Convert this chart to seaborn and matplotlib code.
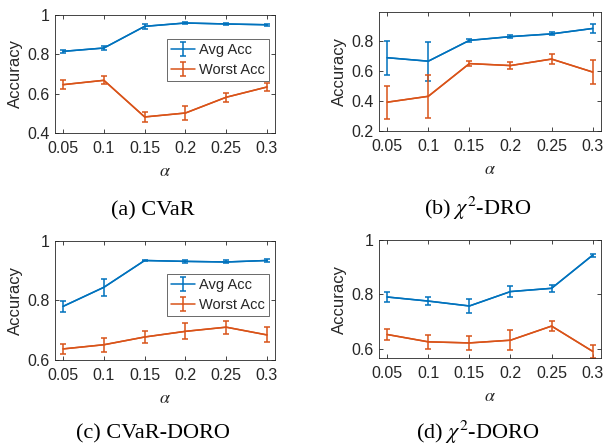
import numpy as np
import pandas as pd
import matplotlib
matplotlib.use("Agg")
import matplotlib.pyplot as plt
import seaborn as sns

# alpha values shared by all four panels
alphas = [0.05, 0.1, 0.15, 0.2, 0.25, 0.3]
tick_labels = ["0.05", "0.1", "0.15", "0.2", "0.25", "0.3"]

# (a) CVaR
cvar_avg = [0.814, 0.831, 0.941, 0.958, 0.953, 0.949]
cvar_avg_err = [0.008, 0.010, 0.012, 0.003, 0.003, 0.004]
cvar_worst = [0.645, 0.667, 0.481, 0.501, 0.581, 0.633]
cvar_worst_err = [0.024, 0.021, 0.027, 0.034, 0.024, 0.020]

# (b) chi^2-DRO
chi_avg = [0.687, 0.664, 0.802, 0.827, 0.845, 0.881]
chi_avg_err = [0.113, 0.130, 0.012, 0.008, 0.010, 0.027]
chi_worst = [0.392, 0.431, 0.648, 0.635, 0.678, 0.592]
chi_worst_err = [0.109, 0.143, 0.016, 0.026, 0.034, 0.077]

# (c) CVaR-DORO
cvar_doro_avg = [0.780, 0.844, 0.934, 0.931, 0.929, 0.934]
cvar_doro_avg_err = [0.019, 0.028, 0.003, 0.004, 0.005, 0.005]
cvar_doro_worst = [0.637, 0.651, 0.677, 0.696, 0.710, 0.684]
cvar_doro_worst_err = [0.018, 0.023, 0.019, 0.027, 0.022, 0.025]

# (d) chi^2-DORO
chi_doro_avg = [0.790, 0.775, 0.757, 0.810, 0.822, 0.944]
chi_doro_avg_err = [0.020, 0.016, 0.025, 0.021, 0.012, 0.006]
chi_doro_worst = [0.652, 0.625, 0.621, 0.631, 0.683, 0.590]
chi_doro_worst_err = [0.020, 0.025, 0.026, 0.037, 0.018, 0.023]

blue = "#0072BD"
orange = "#D95319"
dark = "#262626"

sns.set_theme(style="ticks")
plt.rcParams["font.family"] = ["Liberation Sans", "DejaVu Sans"]
plt.rcParams["mathtext.fontset"] = "stix"

fig = plt.figure(figsize=(6.03, 4.46), dpi=100)

panels = [
    # rect, avg, avg_err, worst, worst_err, ylim, yticks, ylabels, legend y, caption, caption pos
    ([0.0912, 0.702, 0.365, 0.265], cvar_avg, cvar_avg_err, cvar_worst, cvar_worst_err,
     (0.4, 1.0), [0.4, 0.6, 0.8, 1.0], ["0.4", "0.6", "0.8", "1"], 0.797,
     "(a) CVaR", (0.253, 0.516)),
    ([0.6285, 0.706, 0.368, 0.267], chi_avg, chi_avg_err, chi_worst, chi_worst_err,
     (0.2, 0.99), [0.2, 0.4, 0.6, 0.8], ["0.2", "0.4", "0.6", "0.8"], None,
     "(b) $\\chi^2$-DRO", (0.792, 0.518)),
    ([0.0912, 0.193, 0.365, 0.267], cvar_doro_avg, cvar_doro_avg_err, cvar_doro_worst, cvar_doro_worst_err,
     (0.6, 1.0), [0.6, 0.8, 1.0], ["0.6", "0.8", "1"], 0.723,
     "(c) CVaR-DORO", (0.253, 0.016)),
    ([0.6285, 0.197, 0.368, 0.265], chi_doro_avg, chi_doro_avg_err, chi_doro_worst, chi_doro_worst_err,
     (0.565, 1.0), [0.6, 0.8, 1.0], ["0.6", "0.8", "1"], None,
     "(d) $\\chi^2$-DORO", (0.793, 0.016)),
]

for rect, avg, avg_err, worst, worst_err, ylim, yticks, ylabels, leg_y, caption, cpos in panels:
    ax = fig.add_axes(rect)
    df = pd.DataFrame({
        "alpha": alphas * 2,
        "acc": avg + worst,
        "series": ["Avg Acc"] * 6 + ["Worst Acc"] * 6,
    })
    sns.lineplot(data=df, x="alpha", y="acc", hue="series",
                 palette={"Avg Acc": blue, "Worst Acc": orange},
                 linewidth=1.1, legend=False, ax=ax)
    h1 = ax.errorbar(alphas, avg, yerr=avg_err, fmt="-", color=blue, lw=1.1,
                     elinewidth=1.1, capsize=2, capthick=1.1, label="Avg Acc")
    h2 = ax.errorbar(alphas, worst, yerr=worst_err, fmt="-", color=orange, lw=1.1,
                     elinewidth=1.1, capsize=2, capthick=1.1, label="Worst Acc")
    ax.set_xlim(0.04, 0.31)
    ax.set_ylim(*ylim)
    ax.set_xticks(alphas)
    ax.set_xticklabels(tick_labels)
    ax.set_yticks(yticks)
    ax.set_yticklabels(ylabels)
    ax.tick_params(direction="in", top=True, right=True, length=3, width=0.6,
                   labelsize=11.5, colors=dark)
    ax.tick_params(axis="x", pad=6)
    ax.tick_params(axis="y", pad=4)
    for s in ax.spines.values():
        s.set_color(dark)
        s.set_linewidth(0.6)
    ax.set_xlabel("$\\alpha$", fontsize=13, color=dark, labelpad=5)
    ax.set_ylabel("Accuracy", fontsize=12, color=dark, labelpad=3)
    if leg_y is not None:
        leg = ax.legend(handles=[h1, h2], loc="upper right",
                        bbox_to_anchor=(0.973, leg_y), fontsize=10.5,
                        frameon=True, fancybox=False, edgecolor=dark,
                        borderpad=0.3, handlelength=1.6, handletextpad=0.3,
                        labelspacing=0.4, borderaxespad=0)
        leg.get_frame().set_linewidth(0.6)
    fig.text(cpos[0], cpos[1], caption, ha="center", va="baseline",
             fontsize=16, family=["Liberation Serif", "DejaVu Serif"], color="black")

fig.savefig("out.png", dpi=100)
